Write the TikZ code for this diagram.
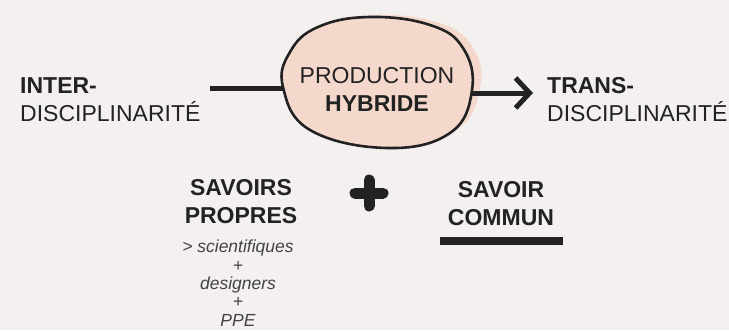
\documentclass[tikz,border=0pt]{standalone}
\usepackage{fontspec}
\setmainfont{Liberation Sans}
\usetikzlibrary{arrows.meta}
\definecolor{paper}{HTML}{F3F0EF}
\definecolor{blobpink}{HTML}{F5D8CC}
\definecolor{ink}{HTML}{222222}
\begin{document}
\begin{tikzpicture}[x=1pt, y=-1pt,
    word/.style={inner sep=0pt, text=ink, align=left, font=\fontsize{23}{27.5}\selectfont},
    note/.style={inner sep=0pt, text=ink!85, align=center, font=\fontsize{17.5}{18.3}\selectfont\itshape},
    wire/.style={line width=5pt, draw=ink}]
                \useasboundingbox (0,0) rectangle (729,330);
                \fill[paper] (0,0) rectangle (729,330);
                \fill[blobpink] plot[smooth cycle, tension=0.7] coordinates {(372,15) (436,22) (472,46) (480,88) (455,131) (387,147) (310,129) (284,87) (291,52) (320,26)};
                \draw[line width=2.6pt, draw=ink] plot[smooth cycle, tension=0.7] coordinates {(370,17) (430,25) (463,48) (472,90) (450,133) (387,148) (310,130) (283,87) (290,52) (318,27)};
                \coordinate (blobW) at (284,88);
                \coordinate (blobE) at (471,93);
                \coordinate (lineL) at (210,88);
                \node[word, align=center, anchor=base] (prod) at (377,111) {PRODUCTION\\\textbf{HYBRIDE}};
                \node[word, anchor=base west] (inter) at (20,121) {\textbf{INTER-}\\DISCIPLINARITÉ};
                \node[word, anchor=base west] (trans) at (547,121) {\textbf{TRANS-}\\DISCIPLINARITÉ};
                \draw[wire] (lineL) -- (blobW);
                \draw[wire, -{Straight Barb[length=14pt, width=30pt]}, shorten >=14pt] (blobE) -- (trans.west |- blobE);
                \node[word, align=center, anchor=base, font=\fontsize{23}{28}\selectfont\bfseries] (propres) at (241,223) {SAVOIRS\\PROPRES};
                \node[note, anchor=base] (liste) at (238,326) {> scientifiques\\+\\designers\\+\\PPE};
                \coordinate (plus) at (369,193);
                \draw[line width=11pt, line cap=round, draw=ink] ([xshift=-14pt]plus) -- ([xshift=14pt]plus) ([yshift=-13pt]plus) -- ([yshift=13pt]plus);
                \node[word, align=center, anchor=base, font=\fontsize{23}{28}\selectfont\bfseries] (commun) at (501,225) {SAVOIR\\COMMUN};
                \draw[line width=8pt, draw=ink] (440,241) -- (563,241);
            \end{tikzpicture}
\end{document}
